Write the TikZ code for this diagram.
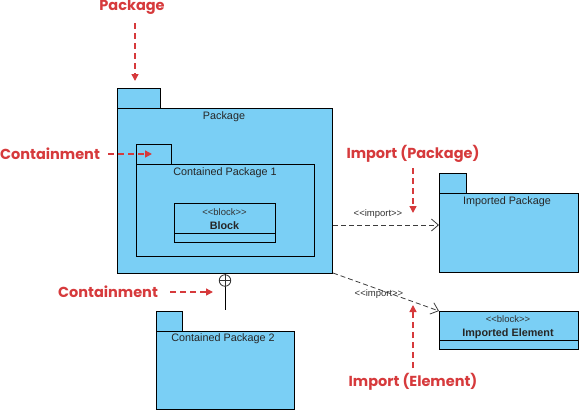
\documentclass[tikz,border=0pt]{standalone}
\usepackage{fontspec}
\setmainfont{Liberation Sans}
\newfontfamily\annfont{Poppins}
\usetikzlibrary{arrows.meta}
\definecolor{pkgblue}{RGB}{122,207,245}
\definecolor{annred}{RGB}{214,58,60}
\definecolor{lineg}{RGB}{60,60,60}
\newcommand{\stt}[1]{<{}<#1>{}>}
\tikzset{
  box/.style={draw=black, fill=pkgblue, line width=0.9pt, rectangle, inner sep=0pt, anchor=north west},
  lbl/.style={font=\fontsize{10.8}{12}\selectfont, inner sep=0pt, text=black!85},
  stereo/.style={font=\fontsize{9.5}{11}\selectfont, inner sep=0pt, text=black!80},
  ann/.style={font=\annfont\bfseries\fontsize{14.5}{16}\selectfont, text=annred, inner sep=0pt},
  annarrow/.style={draw=annred, line width=1.4pt, dash pattern=on 6pt off 4pt, -{Triangle[length=7pt,width=7pt]}},
  imp/.style={draw=lineg, line width=0.8pt, dash pattern=on 5pt off 3pt, -{Straight Barb[length=7pt,width=12pt]}}
}
\begin{document}
\begin{tikzpicture}[x=1pt,y=-1pt]
\useasboundingbox (0,0) rectangle (579,410);
% Package
\node[box, minimum width=43pt, minimum height=20pt] (pkgtab) at (117,88) {};
\node[box, minimum width=215pt, minimum height=165pt] (pkg) at (117,108) {};
\node[lbl] (pkgl) at (224,117) {Package};
% Contained Package 1
\node[box, minimum width=35pt, minimum height=20pt] (cp1tab) at (136,144) {};
\node[box, minimum width=178pt, minimum height=92pt] (cp1) at (136,164) {};
\node[lbl] (cp1l) at (225,173) {Contained Package 1};
% Block
\node[box, minimum width=101pt, minimum height=39pt] (blk) at (174,203) {};
\draw[line width=0.9pt] (174,233) -- (275,233);
\node[stereo] (blks) at (224.5,212) {\stt{block}};
\node[lbl, font=\bfseries\fontsize{10.8}{12}\selectfont] (blkn) at (224.5,226) {Block};
% Imported Package
\node[box, minimum width=27pt, minimum height=20pt] (iptab) at (439,173) {};
\node[box, minimum width=139pt, minimum height=79pt] (ip) at (439,193) {};
\node[lbl] (ipl) at (507,202) {Imported Package};
% Imported Element
\node[box, minimum width=139pt, minimum height=38pt] (ie) at (439,311) {};
\draw[line width=0.9pt] (439,340) -- (578,340);
\node[stereo] (ies) at (508,319) {\stt{block}};
\node[lbl, font=\bfseries\fontsize{10.8}{12}\selectfont] (ien) at (508,334) {Imported Element};
% Contained Package 2
\node[box, minimum width=26pt, minimum height=20pt] (cp2tab) at (156,311) {};
\node[box, minimum width=138pt, minimum height=78pt] (cp2) at (156,331) {};
\node[lbl] (cp2l) at (223,339) {Contained Package 2};
% containment connector
\node[circle, draw=black!80, line width=0.8pt, minimum size=11.5pt, inner sep=0pt] (cpl) at (225,280.5) {};
\draw[black!80, line width=0.8pt] (cpl.north) -- (cpl.south) (cpl.west) -- (cpl.east);
\coordinate (cpend) at (225,310);
\draw[line width=0.9pt] (cpl.south) -- (cpend);
% import connectors
\coordinate (imp1s) at (333,225);
\coordinate (imp1e) at (439,225);
\draw[imp] (imp1s) -- (imp1e);
\node[stereo] (imp1l) at (378,214) {\stt{import}};
\coordinate (imp2s) at (333,273);
\coordinate (imp2e) at (439,311);
\draw[imp] (imp2s) -- (imp2e);
\node[stereo] (imp2l) at (379,294.5) {\stt{import}};
% annotations
\node[ann] (a1) at (132,7) {Package};
\coordinate (a1s) at (135,23);
\coordinate (a1e) at (135,81);
\draw[annarrow] (a1s) -- (a1e);
\node[ann] (a2) at (50,153.5) {Containment};
\coordinate (a2s) at (108,154);
\coordinate (a2e) at (152,154);
\draw[annarrow] (a2s) -- (a2e);
\node[ann] (a3) at (108,292) {Containment};
\coordinate (a3s) at (170,292);
\coordinate (a3e) at (213,292);
\draw[annarrow] (a3s) -- (a3e);
\node[ann] (a4) at (413,154) {Import (Package)};
\coordinate (a4s) at (413,168);
\coordinate (a4e) at (413,213);
\draw[annarrow] (a4s) -- (a4e);
\node[ann] (a5) at (413,382) {Import (Element)};
\coordinate (a5s) at (413,368);
\coordinate (a5e) at (413,305);
\draw[annarrow] (a5s) -- (a5e);
\end{tikzpicture}
\end{document}
